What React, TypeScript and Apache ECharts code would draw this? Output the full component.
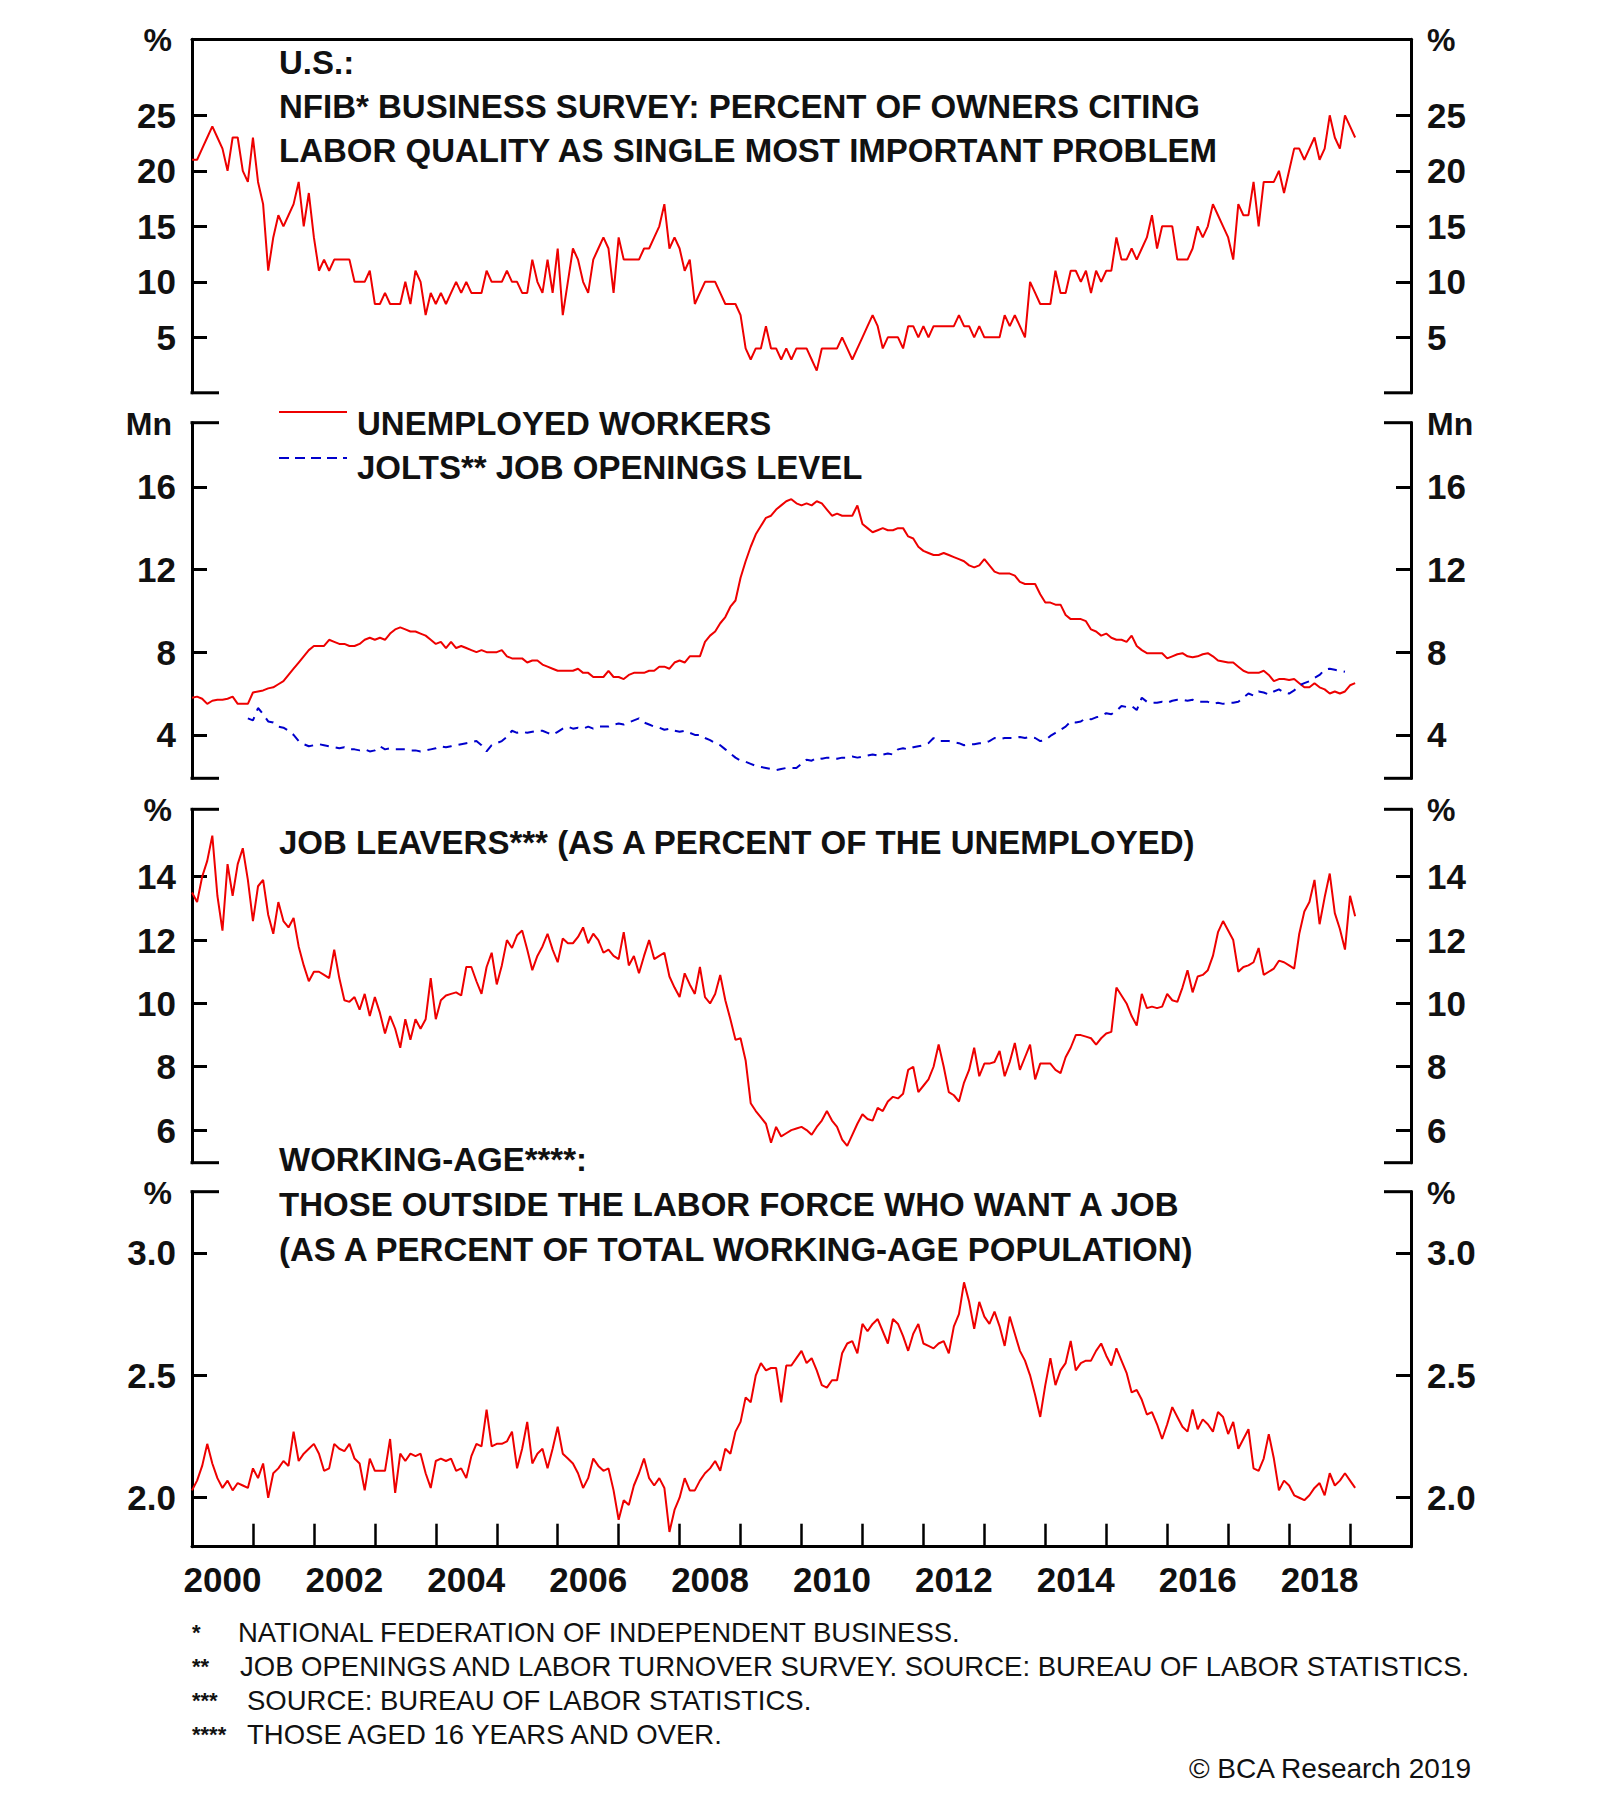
import React, { useEffect, useRef } from 'react';
import * as echarts from 'echarts';

// ---------------- DATA (monthly, Jan 2000 = index 0) ----------------
const yearLabels = ['2000', '2002', '2004', '2006', '2008', '2010', '2012', '2014', '2016', '2018'];
const monthsSpan = 240;

// NFIB: % of owners citing labor quality as single most important problem
const nfibLaborQuality = [
  21, 21, 22, 23, 24, 23, 22, 20, 23, 23, 20, 19,
  23, 19, 17, 11, 14, 16, 15, 16, 17, 19, 15, 18,
  14, 11, 12, 11, 12, 12, 12, 12, 10, 10, 10, 11,
  8, 8, 9, 8, 8, 8, 10, 8, 11, 10, 7, 9,
  8, 9, 8, 9, 10, 9, 10, 9, 9, 9, 11, 10,
  10, 10, 11, 10, 10, 9, 9, 12, 10, 9, 12, 9,
  13, 7, 10, 13, 12, 10, 9, 12, 13, 14, 13, 9,
  14, 12, 12, 12, 12, 13, 13, 14, 15, 17, 13, 14,
  13, 11, 12, 8, 9, 10, 10, 10, 9, 8, 8, 8,
  7, 4, 3, 4, 4, 6, 4, 4, 3, 4, 3, 4,
  4, 4, 3, 2, 4, 4, 4, 4, 5, 4, 3, 4,
  5, 6, 7, 6, 4, 5, 5, 5, 4, 6, 6, 5,
  6, 5, 6, 6, 6, 6, 6, 7, 6, 6, 5, 6,
  5, 5, 5, 5, 7, 6, 7, 6, 5, 10, 9, 8,
  8, 8, 11, 9, 9, 11, 11, 10, 11, 9, 11, 10,
  11, 11, 14, 12, 12, 13, 12, 13, 14, 16, 13, 15,
  15, 15, 12, 12, 12, 13, 15, 14, 15, 17, 16, 15,
  14, 12, 17, 16, 16, 19, 15, 19, 19, 19, 20, 18,
  20, 22, 22, 21, 22, 23, 21, 22, 25, 23, 22, 25,
  24, 23,
];

// Unemployed workers, millions
const unemployedWorkers = [
  5.8, 5.85, 5.75, 5.5, 5.65, 5.7, 5.7, 5.75, 5.85, 5.5, 5.5, 5.5,
  6.05, 6.1, 6.15, 6.25, 6.3, 6.45, 6.6, 6.9, 7.2, 7.5, 7.8, 8.1,
  8.3, 8.3, 8.3, 8.6, 8.5, 8.4, 8.4, 8.3, 8.3, 8.4, 8.6, 8.7,
  8.6, 8.7, 8.6, 8.9, 9.1, 9.2, 9.1, 9.0, 9.0, 8.9, 8.8, 8.6,
  8.4, 8.5, 8.2, 8.5, 8.2, 8.3, 8.2, 8.1, 8.0, 8.1, 8.0, 8.0,
  8.0, 8.1, 7.8, 7.7, 7.7, 7.7, 7.5, 7.6, 7.6, 7.4, 7.3, 7.2,
  7.1, 7.1, 7.1, 7.1, 7.2, 7.0, 7.0, 6.8, 6.8, 6.8, 7.1, 6.8,
  6.8, 6.7, 6.9, 7.0, 7.0, 7.0, 7.1, 7.1, 7.3, 7.3, 7.2, 7.5,
  7.6, 7.5, 7.8, 7.8, 7.8, 8.5, 8.8, 9.0, 9.4, 9.7, 10.2, 10.5,
  11.6, 12.4, 13.1, 13.7, 14.1, 14.5, 14.6, 14.9, 15.1, 15.3, 15.4, 15.2,
  15.1, 15.2, 15.1, 15.3, 15.2, 14.9, 14.6, 14.7, 14.6, 14.6, 14.6, 15.1,
  14.2, 14.0, 13.8, 13.9, 14.0, 13.9, 13.9, 14.0, 14.0, 13.6, 13.5, 13.1,
  12.9, 12.8, 12.7, 12.7, 12.8, 12.7, 12.6, 12.5, 12.4, 12.2, 12.1, 12.2,
  12.5, 12.2, 11.9, 11.8, 11.8, 11.8, 11.7, 11.4, 11.3, 11.3, 11.3, 10.8,
  10.4, 10.4, 10.3, 10.3, 9.8, 9.6, 9.6, 9.6, 9.5, 9.1, 9.0, 8.8,
  8.9, 8.7, 8.6, 8.6, 8.5, 8.8, 8.3, 8.1, 7.95, 7.95, 7.95, 7.95,
  7.7, 7.8, 7.9, 7.95, 7.8, 7.75, 7.8, 7.9, 7.95, 7.8, 7.6, 7.55,
  7.5, 7.5, 7.3, 7.1, 7.0, 7.0, 7.0, 7.1, 6.9, 6.6, 6.7, 6.7,
  6.65, 6.7, 6.5, 6.3, 6.3, 6.5, 6.3, 6.2, 6.0, 6.1, 6.0, 6.1,
  6.4, 6.5,
];

// JOLTS job openings level, millions (series starts Dec 2000)
const joltsOpenings = [
  null, null, null, null, null, null, null, null, null, null, null, 4.8,
  4.7, 5.3, 5.0, 4.65, 4.6, 4.4, 4.35, 4.2, 4.0, 3.7, 3.55, 3.45,
  3.5, 3.55, 3.5, 3.45, 3.4, 3.35, 3.4, 3.3, 3.3, 3.25, 3.3, 3.2,
  3.25, 3.45, 3.3, 3.35, 3.3, 3.3, 3.3, 3.25, 3.25, 3.2, 3.25, 3.3,
  3.35, 3.45, 3.4, 3.45, 3.5, 3.55, 3.6, 3.65, 3.7, 3.5, 3.2, 3.5,
  3.6, 3.7, 3.9, 4.2, 4.1, 4.15, 4.1, 4.15, 4.2, 4.2, 4.1, 4.0,
  4.15, 4.3, 4.4, 4.3, 4.35, 4.3, 4.4, 4.3, 4.4, 4.4, 4.4, 4.5,
  4.55, 4.5, 4.6, 4.7, 4.8, 4.6, 4.5, 4.4, 4.35, 4.25, 4.3, 4.2,
  4.15, 4.2, 4.1, 4.0, 4.0, 3.85, 3.75, 3.6, 3.5, 3.3, 3.1, 2.9,
  2.75, 2.7, 2.6, 2.5, 2.45, 2.4, 2.35, 2.3, 2.35, 2.4, 2.4, 2.4,
  2.6, 2.8, 2.75, 2.9, 2.85, 2.9, 2.9, 2.85, 2.9, 2.9, 2.95, 2.9,
  2.95, 3.0, 3.05, 3.0, 3.05, 3.1, 3.05, 3.3, 3.35, 3.3, 3.4, 3.45,
  3.5, 3.6, 3.85, 3.7, 3.7, 3.7, 3.65, 3.6, 3.5, 3.55, 3.55, 3.6,
  3.6, 3.7, 3.85, 3.8, 3.85, 3.85, 3.85, 3.9, 3.85, 3.9, 3.85, 3.7,
  3.75, 3.95, 4.1, 4.25, 4.4, 4.65, 4.6, 4.65, 4.8, 4.75, 4.85, 4.9,
  5.05, 5.0, 5.15, 5.4, 5.35, 5.4, 5.2, 5.8, 5.6, 5.55, 5.55, 5.6,
  5.55, 5.65, 5.7, 5.7, 5.65, 5.7, 5.6, 5.6, 5.6, 5.5, 5.55, 5.5,
  5.55, 5.55, 5.6, 5.8, 6.0, 5.9, 6.1, 6.05, 5.95, 6.1, 6.2, 6.05,
  6.0, 6.15, 6.4, 6.5, 6.6, 6.75, 6.9, 7.15, 7.2, 7.15, 7.1, 7.05,
];

// Job leavers as % of the unemployed
const jobLeavers = [
  13.5, 13.2, 14.0, 14.5, 15.3, 13.4, 12.3, 14.4, 13.4, 14.4, 14.9, 13.9,
  12.6, 13.7, 13.9, 12.8, 12.2, 13.2, 12.6, 12.4, 12.7, 11.8, 11.2, 10.7,
  11.0, 11.0, 10.9, 10.8, 11.7, 10.8, 10.1, 10.05, 10.2, 9.8, 10.3, 9.6,
  10.2, 9.7, 9.05, 9.6, 9.2, 8.6, 9.5, 8.85, 9.5, 9.2, 9.5, 10.8,
  9.5, 10.1, 10.25, 10.3, 10.35, 10.25, 11.15, 11.15, 10.7, 10.3, 11.15, 11.6,
  10.6, 11.2, 12.0, 11.75, 12.15, 12.3, 11.7, 11.05, 11.5, 11.8, 12.2, 11.7,
  11.3, 12.05, 11.9, 11.9, 12.1, 12.4, 11.9, 12.2, 12.0, 11.6, 11.7, 11.5,
  11.4, 12.25, 11.2, 11.5, 10.95, 11.5, 12.0, 11.4, 11.5, 11.6, 10.85, 10.5,
  10.2, 10.95, 10.6, 10.3, 11.15, 10.2, 10.0, 10.3, 10.9, 10.1, 9.5, 8.85,
  8.9, 8.2, 6.85, 6.6, 6.4, 6.2, 5.6, 6.1, 5.8, 5.9, 6.0, 6.05,
  6.1, 6.0, 5.85, 6.1, 6.3, 6.6, 6.3, 6.1, 5.7, 5.5, 5.85, 6.2,
  6.5, 6.35, 6.3, 6.7, 6.6, 6.9, 7.05, 7.0, 7.15, 7.9, 8.0, 7.2,
  7.4, 7.6, 8.0, 8.7, 8.0, 7.2, 7.1, 6.9, 7.5, 7.9, 8.6, 7.7,
  8.1, 8.1, 8.15, 8.5, 7.7, 8.15, 8.75, 7.9, 8.3, 8.7, 7.6, 8.1,
  8.1, 8.1, 7.9, 7.8, 8.3, 8.6, 9.0, 9.0, 8.95, 8.9, 8.7, 8.9,
  9.05, 9.1, 10.5, 10.25, 10.0, 9.6, 9.3, 10.3, 9.85, 9.9, 9.85, 9.9,
  10.3, 10.1, 10.05, 10.5, 11.05, 10.35, 10.85, 10.9, 11.05, 11.5, 12.25, 12.6,
  12.3, 12.0, 11.0, 11.15, 11.2, 11.3, 11.75, 10.9, 11.0, 11.1, 11.35, 11.3,
  11.2, 11.1, 12.2, 12.9, 13.2, 13.9, 12.5, 13.35, 14.1, 12.85, 12.35, 11.7,
  13.4, 12.75,
];

// Those outside the labor force who want a job, % of working-age population
const wantJobShare = [
  2.03, 2.07, 2.13, 2.22, 2.14, 2.08, 2.04, 2.07, 2.03, 2.06, 2.05, 2.04,
  2.12, 2.08, 2.14, 2.0, 2.1, 2.12, 2.15, 2.13, 2.27, 2.15, 2.18, 2.2,
  2.22, 2.18, 2.11, 2.12, 2.22, 2.2, 2.19, 2.22, 2.16, 2.14, 2.03, 2.16,
  2.11, 2.11, 2.11, 2.24, 2.02, 2.18, 2.15, 2.18, 2.17, 2.18, 2.1, 2.04,
  2.15, 2.16, 2.15, 2.16, 2.11, 2.12, 2.08, 2.17, 2.22, 2.21, 2.36, 2.21,
  2.22, 2.22, 2.23, 2.27, 2.12, 2.2, 2.31, 2.14, 2.18, 2.2, 2.12, 2.2,
  2.29, 2.18, 2.16, 2.14, 2.1, 2.04, 2.08, 2.16, 2.13, 2.11, 2.12, 2.03,
  1.91, 1.99, 1.97, 2.05, 2.1, 2.16, 2.08, 2.05, 2.08, 2.04, 1.86, 1.95,
  2.0, 2.08, 2.03, 2.03, 2.07, 2.1, 2.12, 2.15, 2.11, 2.2, 2.18, 2.27,
  2.31, 2.41, 2.39, 2.5, 2.55, 2.52, 2.53, 2.53, 2.39, 2.54, 2.54, 2.57,
  2.6, 2.55, 2.57, 2.52, 2.46, 2.45, 2.48, 2.48, 2.59, 2.63, 2.64, 2.59,
  2.71, 2.68, 2.71, 2.73, 2.68, 2.63, 2.73, 2.71, 2.66, 2.6, 2.67, 2.71,
  2.63, 2.62, 2.61, 2.63, 2.64, 2.59, 2.7, 2.75, 2.88, 2.8, 2.69, 2.8,
  2.74, 2.71, 2.76, 2.7, 2.62, 2.74, 2.67, 2.6, 2.56, 2.5, 2.42, 2.33,
  2.46, 2.57, 2.46, 2.52, 2.55, 2.64, 2.52, 2.55, 2.56, 2.56, 2.6, 2.63,
  2.58, 2.54, 2.61, 2.56, 2.51, 2.43, 2.44, 2.4, 2.34, 2.35, 2.3, 2.24,
  2.3, 2.37, 2.33, 2.29, 2.27, 2.36, 2.28, 2.32, 2.3, 2.27, 2.35, 2.33,
  2.26, 2.31, 2.2, 2.24, 2.28, 2.12, 2.11, 2.16, 2.26, 2.16, 2.03, 2.07,
  2.05, 2.01, 2.0, 1.99, 2.01, 2.04, 2.06, 2.01, 2.1, 2.05, 2.07, 2.1,
  2.07, 2.04,
];

// Y tick values per panel
const ticksNfib = [5, 10, 15, 20, 25];
const ticksMn = [4, 8, 12, 16];
const ticksLeavers = [6, 8, 10, 12, 14];
const ticksWant = [2.0, 2.5, 3.0];

// ---------------- LAYOUT / STYLE ----------------
const FONT = '"Liberation Sans", Arial, Helvetica, sans-serif';
const RED = '#ee0000';
const BLUE = '#0000cc';
const INK = '#111111';
const GL = 192;
const GW = 1219;
const GR = GL + GW;
const TITLE_SIZE = 33;

const panels = [
  { top: 39.3, height: 353.5, min: 0, max: 31.85, ticks: ticksNfib, dec: 0, unit: '%' },
  { top: 422.7, height: 355.6, min: 1.9, max: 19.1, ticks: ticksMn, dec: 0, unit: 'Mn' },
  { top: 809.3, height: 353.4, min: 4.97, max: 16.13, ticks: ticksLeavers, dec: 0, unit: '%' },
  { top: 1191.7, height: 355, min: 1.8, max: 3.25, ticks: ticksWant, dec: 1, unit: '%' },
];

const toPairs = (arr: (number | null)[]) =>
  arr.map((v, i) => [i, v] as [number, number | null]).filter((p) => p[1] !== null);

function yAxisFor(i: number, position: 'left' | 'right') {
  const p = panels[i];
  return {
    type: 'value',
    gridIndex: i,
    position,
    min: p.min,
    max: p.max,
    axisLine: { show: true, onZero: false, lineStyle: { color: '#000', width: 3 } },
    axisTick: {
      show: true,
      inside: true,
      length: 15,
      customValues: p.ticks,
      lineStyle: { color: '#000', width: 3 },
    },
    axisLabel: {
      show: true,
      inside: false,
      margin: 16,
      customValues: p.ticks,
      formatter: (v: number) => v.toFixed(p.dec),
      color: INK,
      fontSize: 35,
      fontWeight: 'bold',
      fontFamily: FONT,
    },
    splitLine: { show: false },
  };
}

const yearTickValues = Array.from({ length: 19 }, (_, k) => 12 * (k + 1));
const yearLabelValues = yearLabels.map((_, k) => 6 + 24 * k);

function buildGraphic() {
  const g: any[] = [];
  const txt = (x: number, y: number, text: string, size: number, weight: string, align = 'left') => ({
    type: 'text',
    x,
    y,
    style: {
      text,
      fill: INK,
      fontSize: size,
      fontWeight: weight,
      fontFamily: FONT,
      align,
      verticalAlign: 'middle',
    },
  });
  const stub = (x1: number, x2: number, y: number) => ({
    type: 'line',
    shape: { x1, y1: y, x2, y2: y },
    style: { stroke: '#000', lineWidth: 3 },
  });
  // stubs at panel ends
  panels.forEach((p, i) => {
    const top = p.top;
    const bot = p.top + p.height;
    if (i > 0) {
      g.push(stub(GL - 1.5, GL + 27, top), stub(GR - 27, GR + 1.5, top));
    }
    if (i < 3) {
      g.push(stub(GL - 1.5, GL + 27, bot), stub(GR - 27, GR + 1.5, bot));
    }
    g.push(txt(172, top + 1, p.unit, 32, 'bold', 'right'));
    g.push(txt(1427, top + 1, p.unit, 32, 'bold', 'left'));
  });
  // titles
  const TX = 279;
  g.push(txt(TX, 62, 'U.S.:', TITLE_SIZE, 'bold'));
  g.push(txt(TX, 106, 'NFIB* BUSINESS SURVEY: PERCENT OF OWNERS CITING', TITLE_SIZE, 'bold'));
  g.push(txt(TX, 150, 'LABOR QUALITY AS SINGLE MOST IMPORTANT PROBLEM', TITLE_SIZE, 'bold'));
  // legend
  g.push({ type: 'line', shape: { x1: 279, y1: 412, x2: 347, y2: 412 }, style: { stroke: RED, lineWidth: 2 } });
  g.push({
    type: 'line',
    shape: { x1: 279, y1: 458, x2: 347, y2: 458 },
    style: { stroke: BLUE, lineWidth: 2, lineDash: [10, 6] },
  });
  g.push(txt(357, 423, 'UNEMPLOYED WORKERS', TITLE_SIZE, 'bold'));
  g.push(txt(357, 467, 'JOLTS** JOB OPENINGS LEVEL', TITLE_SIZE, 'bold'));
  g.push(txt(TX, 842, 'JOB LEAVERS*** (AS A PERCENT OF THE UNEMPLOYED)', TITLE_SIZE, 'bold'));
  g.push(txt(TX, 1159, 'WORKING-AGE****:', TITLE_SIZE, 'bold'));
  g.push(txt(TX, 1204, 'THOSE OUTSIDE THE LABOR FORCE WHO WANT A JOB', TITLE_SIZE, 'bold'));
  g.push(txt(TX, 1249, '(AS A PERCENT OF TOTAL WORKING-AGE POPULATION)', TITLE_SIZE, 'bold'));
  // footnotes
  const notes: [string, number, string, number][] = [
    ['*', 1632, 'NATIONAL FEDERATION OF INDEPENDENT BUSINESS.', 238],
    ['**', 1666, 'JOB OPENINGS AND LABOR TURNOVER SURVEY. SOURCE: BUREAU OF LABOR STATISTICS.', 240],
    ['***', 1700, 'SOURCE: BUREAU OF LABOR STATISTICS.', 247],
    ['****', 1734, 'THOSE AGED 16 YEARS AND OVER.', 247],
  ];
  notes.forEach(([mark, y, text, x]) => {
    g.push(txt(192, y, mark, 22, 'bold'));
    g.push(txt(x, y, text, 27.5, 'normal'));
  });
  g.push(txt(1471, 1768, '\u00A9 BCA Research 2019', 28, 'normal', 'right'));
  return g;
}

function buildOption() {
  const grids = panels.map((p) => ({ left: GL, width: GW, top: p.top, height: p.height, containLabel: false }));
  const hiddenX = (i: number) => ({
    type: 'value',
    gridIndex: i,
    min: 0,
    max: monthsSpan,
    show: false,
  });
  const xAxes = [
    {
      type: 'value',
      gridIndex: 0,
      position: 'top',
      min: 0,
      max: monthsSpan,
      axisLine: { show: true, onZero: false, lineStyle: { color: '#000', width: 3 } },
      axisTick: { show: false },
      axisLabel: { show: false },
      splitLine: { show: false },
    },
    hiddenX(1),
    hiddenX(2),
    {
      type: 'value',
      gridIndex: 3,
      position: 'bottom',
      min: 0,
      max: monthsSpan,
      axisLine: { show: true, onZero: false, lineStyle: { color: '#000', width: 3 } },
      axisTick: {
        show: true,
        inside: true,
        length: 23,
        customValues: yearTickValues,
        lineStyle: { color: '#000', width: 2.5 },
      },
      axisLabel: {
        show: true,
        margin: 15,
        customValues: yearLabelValues,
        formatter: (v: number) => yearLabels[Math.round((v - 6) / 24)] ?? '',
        color: INK,
        fontSize: 35,
        fontWeight: 'bold',
        fontFamily: FONT,
      },
      splitLine: { show: false },
    },
  ];
  const yAxes: any[] = [];
  panels.forEach((_, i) => {
    yAxes.push(yAxisFor(i, 'left'));
    yAxes.push(yAxisFor(i, 'right'));
  });
  const line = (name: string, data: any[], gi: number, color: string, dashed = false) => ({
    name,
    type: 'line',
    xAxisIndex: gi,
    yAxisIndex: gi * 2,
    data,
    symbol: 'none',
    showSymbol: false,
    connectNulls: false,
    lineStyle: { color, width: 2, type: dashed ? [9, 7] : 'solid' },
    z: 3,
  });
  return {
    animation: false,
    backgroundColor: '#ffffff',
    grid: grids,
    xAxis: xAxes,
    yAxis: yAxes,
    series: [
      line('NFIB labor quality', toPairs(nfibLaborQuality), 0, RED),
      line('Unemployed workers', toPairs(unemployedWorkers), 1, RED),
      line('JOLTS job openings', toPairs(joltsOpenings), 1, BLUE, true),
      line('Job leavers', toPairs(jobLeavers), 2, RED),
      line('Want a job', toPairs(wantJobShare), 3, RED),
    ],
    graphic: buildGraphic(),
  };
}

export default function App() {
  const ref = useRef<HTMLDivElement | null>(null);
  useEffect(() => {
    document.body.style.margin = '0';
    if (!ref.current) return;
    const chart = echarts.init(ref.current, undefined, { renderer: 'svg' });
    chart.setOption(buildOption() as any);
    return () => chart.dispose();
  }, []);
  return <div ref={ref} style={{ width: 1600, height: 1802, background: '#fff' }} />;
}
